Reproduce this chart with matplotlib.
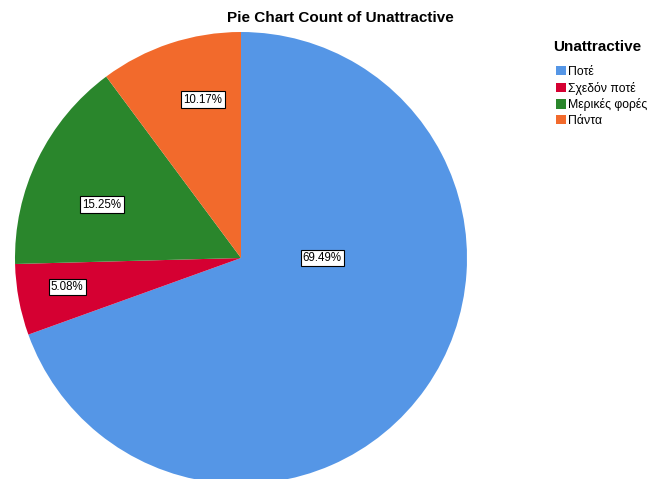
import matplotlib.pyplot as plt
import matplotlib.patches as mpatches
import numpy as np

plt.rcParams['font.family'] = ['Liberation Sans', 'DejaVu Sans']

categories = ['Ποτέ', 'Σχεδόν ποτέ', 'Μερικές φορές', 'Πάντα']
percents = [69.49, 5.08, 15.25, 10.17]
colors = ['#5596E6', '#D50032', '#2A862C', '#F26A2C']
# label placement: distance from centre (fraction of radius), angle in degrees
label_dist = [0.36, 0.78, 0.66, 0.72]
label_ang = [0, 189.5, 159, 103.5]

fig = plt.figure(figsize=(6.48, 4.79), dpi=100)
ax = fig.add_axes([15 / 648, -5 / 479, 452 / 648, 452 / 479])

wedges, texts = ax.pie(percents, colors=colors, startangle=90,
                       counterclock=False, radius=1.0)
ax.set_xlim(-1, 1)
ax.set_ylim(-1, 1)
ax.set_aspect('equal')

for p, d, a in zip(percents, label_dist, label_ang):
    a = np.deg2rad(a)
    ax.text(d * np.cos(a), d * np.sin(a), '%.2f%%' % p, ha='center',
            va='center', fontsize=8.3, color='black',
            bbox=dict(facecolor='white', edgecolor='black', linewidth=0.8,
                      boxstyle='square,pad=0.2'))

fig.text(340 / 648, 1 - 18 / 479, 'Pie Chart Count of Unattractive',
         ha='center', va='center', fontsize=11, fontweight='bold')

# legend title drawn on its own, entries below it
fig.text(553 / 648, 1 - 47 / 479, 'Unattractive', ha='left', va='center',
         fontsize=11, fontweight='bold')
handles = [mpatches.Patch(facecolor=c, edgecolor='none') for c in colors]
leg = fig.legend(handles, categories, loc='upper left',
                 bbox_to_anchor=(545 / 648, 1 - 55 / 479), frameon=False,
                 fontsize=8.8, handlelength=0.8, handleheight=0.8,
                 handletextpad=0.2, labelspacing=0.3)

fig.savefig('out.png', dpi=100)
